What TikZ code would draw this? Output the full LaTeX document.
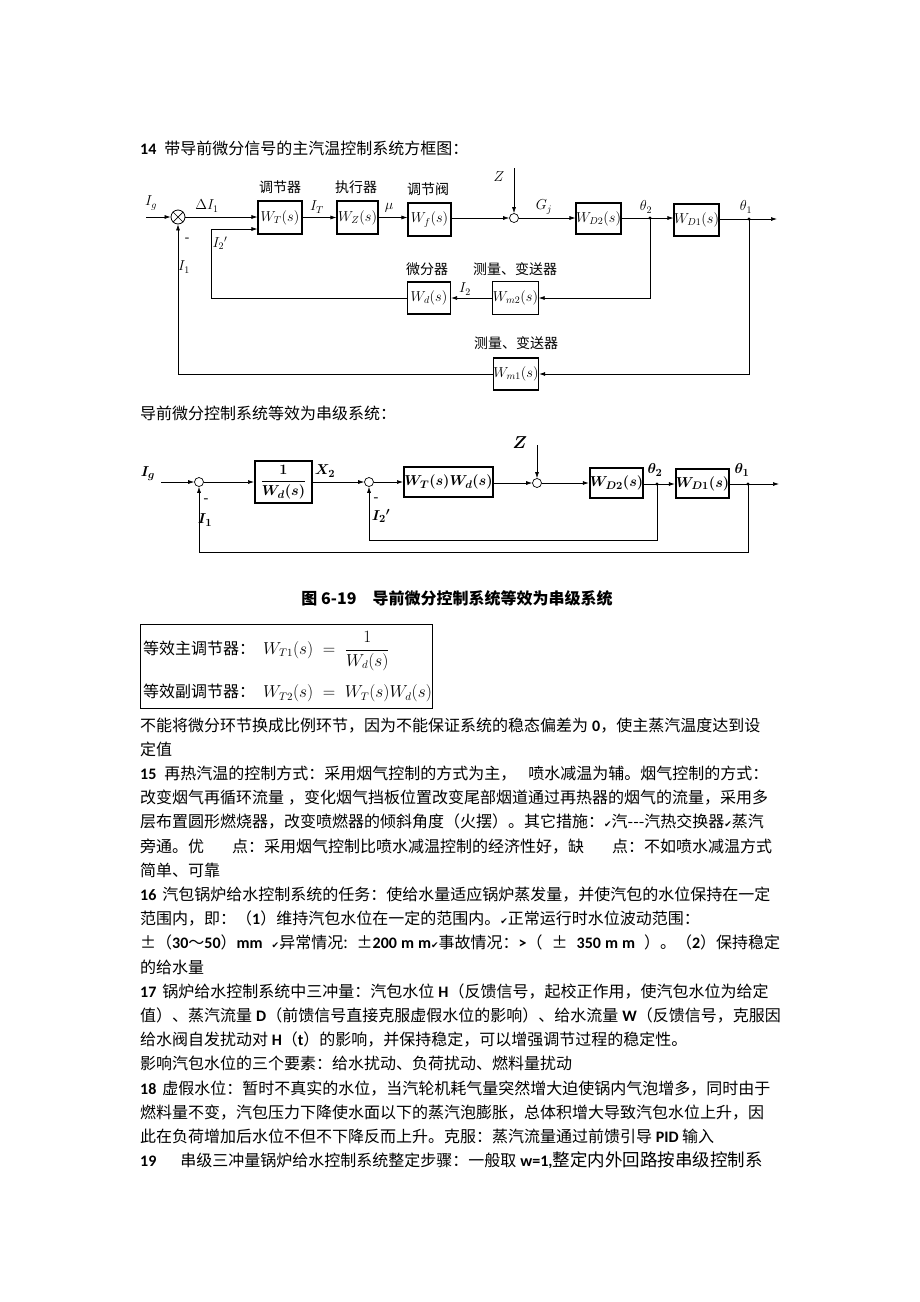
\documentclass[tikz,border=0pt]{standalone}
\usepackage{amsmath}
\usepackage{fontspec}
\setmainfont{Noto Sans CJK SC}
\newfontfamily\lat{Carlito}
\newfontfamily\djv{DejaVu Sans}
\usetikzlibrary{arrows.meta}
\XeTeXlinebreaklocale "zh"
\XeTeXlinebreakskip=0pt plus 8pt
\newcommand\fl[1]{{\spaceskip=4pt\relax\xspaceskip=4pt\relax\hbox to 640pt{#1}}}
\newcommand\B[1]{{\lat\bfseries #1}}
\newcommand\ck{{\djv\fontsize{9}{9}\selectfont ✔}}
\newcommand\gs{\hspace{4pt plus 1fil}}
\tikzset{
  txt/.style={anchor=base west, inner sep=0, font=\fontsize{16}{20}\selectfont},
  ln/.style={line width=0.7pt},
  arr/.style={line width=0.7pt,-{Latex[length=6pt,width=4pt]}},
  boxa/.style={draw, line width=1.1pt, inner sep=0, minimum width=44pt, minimum height=33pt, font=\fontsize{14}{14}\selectfont},
  boxb/.style={draw, line width=2pt, inner sep=0, font=\fontsize{15}{15}\selectfont\boldmath},
  lab/.style={inner sep=0, font=\fontsize{14}{14}\selectfont},
  labb/.style={inner sep=0, font=\fontsize{15}{15}\selectfont\boldmath},
  cn/.style={inner sep=0, font=\fontsize{14}{14}\selectfont},
  sm/.style={circle, draw, line width=0.7pt, inner sep=0, minimum size=9pt},
}
\begin{document}
\begin{tikzpicture}[x=1pt,y=-1pt]
\fill[white] (0,0) rectangle (920,1302);
\useasboundingbox (0,0) rectangle (920,1302);

% ---------- heading ----------
\node[txt] (h14) at (140,154) {\B{14}\hspace{8pt}带导前微分信号的主汽温控制系统方框图：};

% ---------- diagram 1 ----------
\node[circle, draw, line width=0.8pt, inner sep=0, minimum size=14pt] (s1) at (178,217) {};
\draw[ln] (s1.north west) -- (s1.south east) (s1.north east) -- (s1.south west);
\node[boxa] (WT) at (280,217.5) {$W_T(s)$};
\node[boxa, minimum width=41pt] (WZ) at (357.5,217.5) {$W_Z(s)$};
\node[boxa, minimum width=43pt] (Wf) at (429.5,219.5) {$W_f(s)$};
\node[sm] (c2) at (514,218) {};
\node[boxa, minimum width=43pt, minimum height=31pt] (WD2) at (598.5,218.5) {$W_{D2}(s)$};
\node[boxa, minimum width=43pt, minimum height=32pt] (WD1) at (696.5,220) {$W_{D1}(s)$};
\node[boxa, minimum width=43pt, minimum height=32pt] (Wd) at (429,298) {$W_d(s)$};
\node[boxa, minimum width=43pt, minimum height=33pt] (Wm2) at (515.5,298) {$W_{m2}(s)$};
\node[boxa, minimum width=43pt, minimum height=32pt] (Wm1) at (516,374) {$W_{m1}(s)$};

\coordinate (ig) at (146,217);
\coordinate (zt) at (514,168);
\coordinate (t2) at (650,218);
\coordinate (t1) at (749,219);
\coordinate (o1) at (777,219);
\coordinate (k1) at (211,229);

\draw[arr] (ig) -- (s1.west);
\draw[arr] (s1.east) -- (s1 -| WT.west);
\draw[arr] (WT.east) -- (WZ.west);
\draw[arr] (WZ.east) -- (WZ.east -| Wf.west);
\draw[arr] (Wf.east |- c2) -- (c2.west);
\draw[arr] (zt) -- (c2.north);
\draw[arr] (c2.east) -- (c2 -| WD2.west);
\draw[ln] (WD2.east |- t2) -- (t2);
\draw[arr] (t2) -- (t2 -| WD1.west);
\draw[ln] (WD1.east |- t1) -- (t1);
\draw[arr] (t1) -- (o1);
\fill (t2) circle (1.6pt);
\fill (t1) circle (1.6pt);
\draw[arr] (t2) |- (Wm2.east);
\draw[arr] (Wm2.west) -- (Wd.east);
\draw[arr] (Wd.west) -| (k1) -- (k1 -| WT.west);
\draw[arr] (t1) |- (Wm1.east);
\draw[arr] (Wm1.west) -| (s1.south);

\node[lab] (lig) at (151,203) {$I_g$};
\node[lab] (ldi) at (207,206) {$\Delta I_1$};
\node[lab] (lit) at (317,207) {$I_T$};
\node[lab] (lmu) at (389,208) {$\mu$};
\node[lab, font=\fontsize{15}{15}\selectfont] (lz) at (499,177) {$Z$};
\node[lab] (lgj) at (544,207) {$G_j$};
\node[lab] (lt2) at (646,207) {$\theta_2$};
\node[lab] (lt1) at (746,207) {$\theta_1$};
\node[lab] (li2) at (465,289) {$I_2$};
\node[lab] (li2p) at (220,243) {$I_2{}'$};
\node[lab] (lmin) at (187,240) {-};
\node[lab] (li1) at (184,267) {$I_1$};
\node[cn] (n1) at (280,187) {调节器};
\node[cn] (n2) at (356,187) {执行器};
\node[cn] (n3) at (428,189) {调节阀};
\node[cn] (n4) at (427,269) {微分器};
\node[cn] (n5) at (515,269) {测量、变送器};
\node[cn] (n6) at (516,343) {测量、变送器};

% ---------- sentence ----------
\node[txt] (sub) at (140,419) {导前微分控制系统等效为串级系统：};

% ---------- diagram 2 ----------
\node[sm] (d1) at (199,482) {};
\node[boxb, minimum width=57pt, minimum height=42pt] (B1) at (283.5,482) {$\dfrac{1}{W_d(s)}$};
\node[sm] (d2) at (369,482) {};
\node[boxb, minimum width=89pt, minimum height=30pt] (B2) at (448.5,482) {$W_T(s)W_d(s)$};
\node[sm] (d3) at (537,483) {};
\node[boxb, minimum width=53pt, minimum height=30pt] (E2) at (616.5,483) {$W_{D2}(s)$};
\node[boxb, minimum width=53pt, minimum height=29pt] (E1) at (702.5,483.5) {$W_{D1}(s)$};

\coordinate (ig2) at (161,482);
\coordinate (z2) at (537,445);
\coordinate (u2) at (657,484);
\coordinate (u1) at (748,484);
\coordinate (o2) at (779,484);
\coordinate (v2) at (657,540);
\coordinate (v1) at (748,552);

\draw[arr] (ig2) -- (d1.west);
\draw[arr] (d1.east) -- (d1 -| B1.west);
\draw[arr] (B1.east |- d2) -- (d2.west);
\draw[arr] (d2.east) -- (d2 -| B2.west);
\draw[arr] (B2.east |- d3) -- (d3.west);
\draw[arr] (z2) -- (d3.north);
\draw[arr] (d3.east) -- (d3 -| E2.west);
\draw[ln] (E2.east |- u2) -- (u2);
\draw[arr] (u2) -- (u2 -| E1.west);
\draw[ln] (E1.east |- u1) -- (u1);
\draw[arr] (u1) -- (o2);
\fill (u2) circle (1.6pt);
\fill (u1) circle (1.6pt);
\draw[arr] (u2) -- (v2) -| (d2.south);
\draw[arr] (u1) -- (v1) -| (d1.south);

\node[labb] (mig) at (148,474) {$I_g$};
\node[labb] (mx2) at (325,471) {$X_2$};
\node[labb, font=\fontsize{16}{16}\selectfont\boldmath] (mz) at (520,443) {$Z$};
\node[labb] (mt2) at (655,470) {$\theta_2$};
\node[labb] (mt1) at (742,470) {$\theta_1$};
\node[labb] (mm1) at (206,501) {-};
\node[labb] (mi1) at (205,520) {$I_1$};
\node[labb] (mm2) at (376,500) {-};
\node[labb] (mi2) at (381,516) {$I_2{}'$};

% ---------- caption ----------
\node[inner sep=0, font=\bfseries\fontsize{16}{16}\selectfont] (cap) at (457,598) {图 6-19\hspace{16pt}导前微分控制系统等效为串级系统};

% ---------- formula box ----------
\node[draw, line width=0.8pt, inner sep=0, minimum width=292pt, minimum height=84pt] (fb) at (286,666) {};
\node[anchor=west, inner sep=0, font=\fontsize{16}{18}\selectfont] (f1) at (143,651) {等效主调节器：\hspace{8pt}$W_{T1}(s)\;=\;\dfrac{1}{W_d(s)}$};
\node[anchor=west, inner sep=0, font=\fontsize{16}{18}\selectfont] (f2) at (143,693) {等效副调节器：\hspace{8pt}$W_{T2}(s)\;=\;W_T(s)W_d(s)$};

% ---------- body text ----------
\node[txt] (L0) at (140,731) {\fl{不能将微分环节换成比例环节，因为不能保证系统的稳态偏差为 \B{0}，使主蒸汽温度达到设}};
\node[txt] (L1) at (140,755.2) {定值};
\node[txt] (L2) at (140,779.4) {\fl{\B{15}\hspace{8pt}再热汽温的控制方式：采用烟气控制的方式为主，\hspace{12pt}喷水减温为辅。烟气控制的方式：}};
\node[txt] (L3) at (140,803.6) {\fl{改变烟气再循环流量 ，变化烟气挡板位置改变尾部烟道通过再热器的烟气的流量，采用多}};
\node[txt] (L4) at (140,827.8) {\fl{层布置圆形燃烧器，改变喷燃器的倾斜角度（火摆）。其它措施：\ck 汽-\kern0pt-\kern0pt-汽热交换器\ck 蒸汽}};
\node[txt] (L5) at (140,852) {\fl{旁通。优\hspace{28pt}点：采用烟气控制比喷水减温控制的经济性好，缺\hspace{28pt}点：不如喷水减温方式}};
\node[txt] (L6) at (140,876.2) {简单、可靠};
\node[txt] (L7) at (140,900.4) {\fl{\B{16}\hspace{6pt}汽包锅炉给水控制系统的任务：使给水量适应锅炉蒸发量，并使汽包的水位保持在一定}};
\node[txt] (L8) at (140,924.6) {范围内，即：（\B{1}）维持汽包水位在一定的范围内。\ck 正常运行时水位波动范围：};
\node[txt] (L9) at (140,948.8) {\fl{±（\B{30}～\B{50}）\B{mm}\gs\ck 异常情况:\gs ±\B{200 m m}\ck 事故情况：\B{>}（\gs ±\gs\B{350 m m}\gs ）。（\B{2}）保持稳定}};
\node[txt] (L10) at (140,973) {的给水量};
\node[txt] (L11) at (140,997.2) {\fl{\B{17}\hspace{6pt}锅炉给水控制系统中三冲量：汽包水位 \B{H}（反馈信号，起校正作用，使汽包水位为给定}};
\node[txt] (L12) at (140,1021.4) {\fl{值）、蒸汽流量 \B{D}（前馈信号直接克服虚假水位的影响）、给水流量 \B{W}（反馈信号，克服因}};
\node[txt] (L13) at (140,1045.6) {给水阀自发扰动对 \B{H}（\B{t}）的影响，并保持稳定，可以增强调节过程的稳定性。};
\node[txt] (L14) at (140,1069.8) {影响汽包水位的三个要素：给水扰动、负荷扰动、燃料量扰动};
\node[txt] (L15) at (140,1094) {\fl{\B{18}\hspace{6pt}虚假水位：暂时不真实的水位，当汽轮机耗气量突然增大迫使锅内气泡增多，同时由于}};
\node[txt] (L16) at (140,1118.2) {\fl{燃料量不变，汽包压力下降使水面以下的蒸汽泡膨胀，总体积增大导致汽包水位上升，因}};
\node[txt] (L17) at (140,1142.4) {此在负荷增加后水位不但不下降反而上升。克服：蒸汽流量通过前馈引导 \B{PID} 输入};
\node[txt] (L18) at (140,1166.6) {\fl{\B{19}\hspace{24pt}串级三冲量锅炉给水控制系统整定步骤：一般取 \B{w=1,}{\fontsize{17.5}{20}\selectfont 整定内外回路按串级控制系}}};
\end{tikzpicture}
\end{document}
